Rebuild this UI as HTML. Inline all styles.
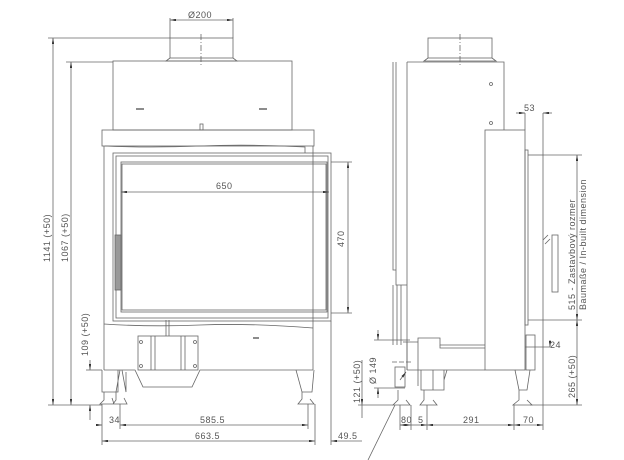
<!DOCTYPE html>
<html><head><meta charset="utf-8"><style>
html,body{margin:0;padding:0;background:#fff;}
svg{display:block;font-family:"Liberation Sans",sans-serif;}
text{fill:#555;font-size:9px;letter-spacing:0.5px;}
</style></head><body>
<svg width="624" height="460" viewBox="0 0 624 460" xmlns="http://www.w3.org/2000/svg">
<defs>
<marker id="a" viewBox="0 0 10 4" refX="10" refY="2" markerWidth="8" markerHeight="3" orient="auto-start-reverse"><path d="M0,0L10,2L0,4z" fill="#333"/></marker>
</defs>
<g stroke="#666" stroke-width="0.8" fill="none">
<!-- FRONT VIEW -->
<rect x="170" y="38" width="63" height="20"/>
<path d="M170,58 L166,61 L237,61 L233,58"/>
<line x1="201" y1="34" x2="201" y2="65" stroke-dasharray="6,2,1,2"/>
<rect x="113" y="61" width="179" height="69"/>
<line x1="136" y1="109" x2="144" y2="109" stroke-width="1.5"/>
<line x1="259" y1="109" x2="267" y2="109" stroke-width="1.5"/>
<rect x="200" y="124" width="3" height="6"/>
<rect x="102" y="130" width="212" height="16"/>
<path d="M105,146 Q150,148 200,146 T305,147 L305,153"/>
<rect x="113" y="153" width="218" height="168"/>
<rect x="116" y="156" width="212" height="162"/>
<rect x="121" y="162" width="206" height="150"/>
<rect x="122" y="164" width="204" height="146"/>
<line x1="104" y1="146" x2="104" y2="370"/>
<line x1="313" y1="146" x2="313" y2="370"/>
<rect x="115" y="235" width="6" height="55" fill="#999"/>
<path d="M104,324 Q150,327 200,325 T313,328"/>
<line x1="166" y1="320" x2="166" y2="336"/>
<line x1="169" y1="320" x2="169" y2="336"/>
<rect x="138" y="336" width="60" height="34"/>
<line x1="151" y1="336" x2="151" y2="370"/>
<line x1="155" y1="336" x2="155" y2="370"/>
<line x1="181" y1="336" x2="181" y2="370"/>
<line x1="185" y1="336" x2="185" y2="370"/>
<circle cx="141" cy="342" r="1.5"/><circle cx="195" cy="342" r="1.5"/>
<circle cx="141" cy="366" r="1.5"/><circle cx="195" cy="366" r="1.5"/>
<path d="M104,370 L135,370 L143,387 L192,387 L200,370 L313,370"/>
<line x1="253" y1="338" x2="259" y2="338" stroke-width="1.5"/>
<path d="M102,370 L102,392 L118,392 L118,370 M120,370 L116,392 M122,370 L126,392 L126,372"/>
<path d="M104,392 L104,400 L100,404 L114,404 L112,398 M116,392 L116,400 L113,404 L127,404 L124,398"/>
<path d="M296,370 L302,392 L312,392 L314,370 M302,392 L302,399 L298,404 L314,404 L310,399"/>
<!-- front dims -->
<line x1="170" y1="20" x2="233" y2="20" marker-start="url(#a)" marker-end="url(#a)"/>
<line x1="170" y1="18" x2="170" y2="38"/><line x1="233" y1="18" x2="233" y2="38"/>
<line x1="48" y1="38" x2="170" y2="38"/>
<line x1="66" y1="62" x2="113" y2="62"/>
<line x1="53" y1="38" x2="53" y2="405" marker-start="url(#a)" marker-end="url(#a)"/>
<line x1="71" y1="62" x2="71" y2="405" marker-start="url(#a)" marker-end="url(#a)"/>
<line x1="48" y1="405" x2="102" y2="405"/>
<line x1="90" y1="360" x2="90" y2="370" marker-end="url(#a)"/>
<line x1="90" y1="405" x2="90" y2="420" marker-start="url(#a)"/>
<line x1="86" y1="370" x2="102" y2="370"/>
<line x1="121" y1="192" x2="329" y2="192" marker-start="url(#a)" marker-end="url(#a)"/>
<line x1="348" y1="162" x2="348" y2="313" marker-start="url(#a)" marker-end="url(#a)"/>
<line x1="331" y1="162" x2="352" y2="162"/><line x1="331" y1="313" x2="352" y2="313"/>
<line x1="102" y1="404" x2="102" y2="445"/>
<line x1="120" y1="404" x2="120" y2="429"/>
<line x1="308" y1="404" x2="308" y2="429"/>
<line x1="315" y1="404" x2="315" y2="445"/>
<line x1="331" y1="321" x2="331" y2="445"/>
<line x1="96" y1="425" x2="102" y2="425" marker-end="url(#a)"/>
<line x1="120" y1="425" x2="308" y2="425" marker-start="url(#a)" marker-end="url(#a)"/>
<line x1="102" y1="441" x2="315" y2="441" marker-start="url(#a)" marker-end="url(#a)"/>
<line x1="331" y1="441" x2="362" y2="441" marker-start="url(#a)"/>
<!-- SIDE VIEW -->
<rect x="428" y="38" width="64" height="20"/>
<path d="M428,58 L424,61 L496,61 L492,58"/>
<line x1="460" y1="34" x2="460" y2="66" stroke-dasharray="6,2,1,2"/>
<path d="M407,62 L504,62 L504,130 M407,62 L407,370"/>
<circle cx="491" cy="84" r="1.5"/><circle cx="491" cy="123" r="1.5"/>
<path d="M393,62 L393,270 L396,270 L396,285 L407,285 M396,62 L396,270"/>
<line x1="393" y1="285" x2="393" y2="345"/><line x1="397" y1="285" x2="397" y2="345"/><line x1="401" y1="285" x2="401" y2="345"/>
<rect x="485" y="130" width="40" height="240"/>
<rect x="525" y="150" width="3" height="175"/>
<line x1="528" y1="155" x2="543" y2="155"/>
<line x1="528" y1="320" x2="548" y2="320"/>
<path d="M543,240 L548,235 M545,244 L550,239"/>
<rect x="552" y="235" width="6" height="57"/>
<path d="M403,342 L418,342 L418,338 L440,338 L440,345 L485,345 M407,342 L407,370 M418,342 L418,386 M407,370 L485,370"/>
<path d="M440,345 L440,348 L485,348"/>
<rect x="526" y="335" width="9" height="35"/>
<rect x="395" y="367" width="10" height="20"/>
<path d="M421,370 L421,390 L444,390 L444,370 M433,370 L433,390 M444,380 L447,370"/>
<path d="M398,390 L398,400 L393,405 L410,405 L406,400 M424,390 L424,400 L420,405 L437,405 L433,400"/>
<path d="M515,370 L519,390 L527,390 L530,370 M519,390 L519,400 L513,405 L532,405 L527,400"/>
<line x1="392" y1="362" x2="412" y2="362" stroke-dasharray="5,2"/>
<line x1="400" y1="380" x2="406" y2="372" marker-end="url(#a)"/>
<line x1="395" y1="405" x2="368" y2="460"/>
<!-- side dims -->
<line x1="543" y1="113" x2="543" y2="430"/>
<line x1="525" y1="113" x2="525" y2="130"/>
<line x1="516" y1="113" x2="525" y2="113" marker-end="url(#a)"/>
<line x1="543" y1="113" x2="552" y2="113" marker-start="url(#a)"/>
<line x1="543" y1="155" x2="582" y2="155"/>
<line x1="548" y1="320" x2="582" y2="320"/>
<line x1="577" y1="155" x2="577" y2="320" marker-start="url(#a)" marker-end="url(#a)"/>
<line x1="577" y1="320" x2="577" y2="405" marker-start="url(#a)" marker-end="url(#a)"/>
<line x1="530" y1="405" x2="582" y2="405"/>
<line x1="525" y1="347" x2="550" y2="347"/>
<line x1="550" y1="340" x2="550" y2="347" marker-end="url(#a)"/>
<line x1="378" y1="330" x2="378" y2="340" marker-end="url(#a)"/>
<line x1="378" y1="388" x2="378" y2="398" marker-start="url(#a)"/>
<line x1="374" y1="340" x2="410" y2="340"/>
<line x1="374" y1="388" x2="405" y2="388"/>
<line x1="362" y1="360" x2="362" y2="405" marker-end="url(#a)"/>
<line x1="362" y1="405" x2="362" y2="418"/>
<line x1="358" y1="405" x2="393" y2="405"/>
<line x1="400" y1="405" x2="400" y2="430"/>
<line x1="411" y1="405" x2="411" y2="430"/>
<line x1="427" y1="405" x2="427" y2="430"/>
<line x1="514" y1="405" x2="514" y2="430"/>
<line x1="400" y1="425" x2="411" y2="425" marker-start="url(#a)" marker-end="url(#a)"/>
<line x1="411" y1="425" x2="427" y2="425" marker-end="url(#a)"/>
<line x1="427" y1="425" x2="514" y2="425" marker-start="url(#a)" marker-end="url(#a)"/>
<line x1="514" y1="425" x2="543" y2="425" marker-start="url(#a)" marker-end="url(#a)"/>
</g>
<text x="188" y="18">Ø200</text>
<text x="216" y="189">650</text>
<text transform="translate(344,247) rotate(-90)">470</text>
<text transform="translate(50,262) rotate(-90)">1141 (+50)</text>
<text transform="translate(68,262) rotate(-90)">1067 (+50)</text>
<text transform="translate(88,356) rotate(-90)">109 (+50)</text>
<text x="109" y="423">34</text>
<text x="200" y="423">585.5</text>
<text x="195" y="439">663.5</text>
<text x="338" y="439">49.5</text>
<text x="524" y="111">53</text>
<text transform="translate(575,310) rotate(-90)">515 - Zastavbový rozmer</text>
<text transform="translate(586,310) rotate(-90)">Baumaße / In-built dimension</text>
<text x="550" y="348">24</text>
<text transform="translate(575,398) rotate(-90)">265 (+50)</text>
<text transform="translate(376,384) rotate(-90)">Ø 149</text>
<text transform="translate(360,403) rotate(-90)">121 (+50)</text>
<text x="401" y="423">80</text>
<text x="418" y="423">5</text>
<text x="463" y="423">291</text>
<text x="523" y="423">70</text>
</svg>
</body></html>
